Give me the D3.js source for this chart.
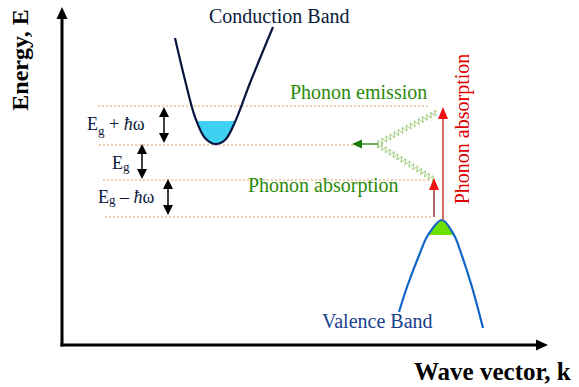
<!DOCTYPE html>
<html><head><meta charset="utf-8">
<script src="https://cdn.jsdelivr.net/npm/d3@7"></script>
<style>
html,body{margin:0;padding:0;background:#fff;}
svg{display:block;font-family:"Liberation Serif","Times New Roman",serif;}
</style></head>
<body>
<script>
// ---- data (units: k along wave-vector axis, E along energy axis) ----
const axisK = [0, 486];
const axisE = [0, 340];
// energy levels of dotted guide lines [E, kStart, kEnd]
const levels = [[239, 36, 368], [200, 37, 293], [165, 41, 368], [128, 43, 371]];
// conduction band sampled points [k, E]
const conductionBand = [[113,307],[123,265],[133,228],[143,207],[153,201],[163,205],[173,223],[188,262],[211,318]];
const conductionFillTop = 224;
// valence band sampled points [k, E]
const valenceBand = [[337,33],[345,58],[358,92],[366,110],[380,125],[392,110],[399,92],[410,58],[421,17]];
const valenceFillBottom = 110;
// double-headed gap arrows [k, Etop, Ebottom]
const gapArrows = [[102, 238, 202], [80, 201, 166], [106, 166, 130]];
// transitions (red arrows) [k, Estart, Eend, lineColor]
const transitions = [[381, 125, 238, "#d86a6a"], [372, 128, 167, "#b06a6a"]];
// phonon wiggles [[k0,E0],[k1,E1]]
const phonons = [[[375, 233], [315, 201]], [[316, 200], [373, 165]]];
const emittedArrow = [[316, 201], [290, 201]];
// labels
const labels = [
  {t: "Conduction Band", k: 147, E: 322, c: "#0b1a3c", s: 20},
  {t: "Phonon emission", k: 228, E: 246, c: "#2b8a0a", s: 20},
  {t: "Phonon absorption", k: 186, E: 153, c: "#2b8a0a", s: 20},
  {t: "Valence Band", k: 260, E: 17, c: "#17408e", s: 20}
];

// ---- scales ----
const W = 579, H = 387;
const x = d3.scaleLinear().domain(axisK).range([62, 548]);
const y = d3.scaleLinear().domain(axisE).range([345, 5]);

const svg = d3.select("body").append("svg").attr("width", W).attr("height", H);
const defs = svg.append("defs");

function tri(g, tipX, tipY, dir, w, h, color) {
  let pts;
  if (dir === "up") pts = [[tipX, tipY], [tipX - w/2, tipY + h], [tipX + w/2, tipY + h]];
  if (dir === "down") pts = [[tipX, tipY], [tipX - w/2, tipY - h], [tipX + w/2, tipY - h]];
  if (dir === "left") pts = [[tipX, tipY], [tipX + h, tipY - w/2], [tipX + h, tipY + w/2]];
  if (dir === "right") pts = [[tipX, tipY], [tipX - h, tipY - w/2], [tipX - h, tipY + w/2]];
  g.append("path").attr("d", "M" + pts.map(p => p.join(",")).join("L") + "Z").attr("fill", color);
}

// ---- axes ----
const ax = svg.append("g");
ax.append("line").attr("x1", x(0)).attr("y1", y(0) + 1.5).attr("x2", x(0)).attr("y2", y(axisE[1]) + 12)
  .attr("stroke", "#000").attr("stroke-width", 3);
tri(ax, x(0), y(axisE[1]) + 2, "up", 11, 12, "#000");
ax.append("line").attr("x1", x(0) - 1.5).attr("y1", y(0)).attr("x2", x(axisK[1]) - 10).attr("y2", y(0))
  .attr("stroke", "#000").attr("stroke-width", 3);
tri(ax, x(axisK[1]), y(0), "right", 11, 12, "#000");

svg.append("text").attr("transform", `translate(28,${y(285)}) rotate(-90)`)
  .attr("text-anchor", "middle").attr("font-weight", "bold").attr("font-size", 24).text("Energy, E");
svg.append("text").attr("x", 414).attr("y", 380).attr("font-weight", "bold").attr("font-size", 25).text("Wave vector, k");

// ---- dotted level lines ----
svg.append("g").selectAll("line").data(levels).join("line")
  .attr("x1", d => x(d[1])).attr("x2", d => x(d[2])).attr("y1", d => y(d[0])).attr("y2", d => y(d[0]))
  .attr("stroke", "#e2a060").attr("stroke-width", 1).attr("stroke-dasharray", "2,2");

// ---- bands ----
const line = d3.line().x(d => x(d[0])).y(d => y(d[1])).curve(d3.curveCatmullRom.alpha(0.5));
defs.append("clipPath").attr("id", "cbclip").append("rect")
  .attr("x", 0).attr("y", y(conductionFillTop)).attr("width", W).attr("height", H);
defs.append("clipPath").attr("id", "vbclip").append("rect")
  .attr("x", 0).attr("y", 0).attr("width", W).attr("height", y(valenceFillBottom));
svg.append("path").attr("d", line(conductionBand) + "Z").attr("fill", "#3fd0f2").attr("clip-path", "url(#cbclip)");
svg.append("path").attr("d", line(valenceBand) + "Z").attr("fill", "#6ee000").attr("clip-path", "url(#vbclip)");
svg.append("path").attr("d", line(conductionBand)).attr("fill", "none").attr("stroke", "#07163f").attr("stroke-width", 2.2);
svg.append("path").attr("d", line(valenceBand)).attr("fill", "none").attr("stroke", "#1065c8").attr("stroke-width", 2.2);

// ---- gap arrows ----
const ga = svg.append("g");
gapArrows.forEach(d => {
  ga.append("line").attr("x1", x(d[0])).attr("x2", x(d[0])).attr("y1", y(d[1]) + 6).attr("y2", y(d[2]) - 6)
    .attr("stroke", "#000").attr("stroke-width", 1.5);
  tri(ga, x(d[0]), y(d[1]), "up", 10, 10, "#000");
  tri(ga, x(d[0]), y(d[2]), "down", 10, 10, "#000");
});

// ---- phonon wiggles ----
function wave(p0, p1, lambda, amp) {
  const X0 = x(p0[0]), Y0 = y(p0[1]), X1 = x(p1[0]), Y1 = y(p1[1]);
  const L = Math.hypot(X1 - X0, Y1 - Y0), ux = (X1 - X0) / L, uy = (Y1 - Y0) / L;
  const nx = -uy, ny = ux, n = Math.round(L * 4);
  const pts = d3.range(n + 1).map(i => {
    const s = i / n * L, o = amp * Math.sin(2 * Math.PI * s / lambda);
    return [X0 + ux * s + nx * o, Y0 + uy * s + ny * o];
  });
  return d3.line()(pts);
}
phonons.forEach(p => svg.append("path").attr("d", wave(p[0], p[1], 4.6, 2.6))
  .attr("fill", "none").attr("stroke", "#86c05a").attr("stroke-width", 1));
svg.append("line").attr("x1", x(emittedArrow[0][0])).attr("y1", y(emittedArrow[0][1]))
  .attr("x2", x(emittedArrow[1][0]) + 8).attr("y2", y(emittedArrow[1][1]))
  .attr("stroke", "#1c7a0a").attr("stroke-width", 1.3);
tri(svg, x(emittedArrow[1][0]), y(emittedArrow[1][1]), "left", 9, 10, "#1c7a0a");

// ---- transitions ----
transitions.forEach(d => {
  svg.append("line").attr("x1", x(d[0])).attr("x2", x(d[0])).attr("y1", y(d[1])).attr("y2", y(d[2]) + 10)
    .attr("stroke", d[3]).attr("stroke-width", 2);
  tri(svg, x(d[0]), y(d[2]), "up", 10, 12, "#f01010");
});
svg.append("text").attr("transform", `translate(469,${y(216)}) rotate(-90)`)
  .attr("text-anchor", "middle").attr("font-size", 20).attr("fill", "#dd0000").text("Phonon absorption");

// ---- labels ----
svg.append("g").selectAll("text").data(labels).join("text")
  .attr("x", d => x(d.k)).attr("y", d => y(d.E)).attr("fill", d => d.c).attr("font-size", d => d.s).text(d => d.t);

// gap labels
const gl = svg.append("g").attr("fill", "#0b1a3c").attr("font-size", 18);
function gapLabel(px, py, op, subShift) {
  const t = gl.append("text").attr("x", px).attr("y", py);
  t.append("tspan").text("E");
  t.append("tspan").attr("font-size", 13).attr("dy", subShift).text("g");
  if (op) {
    t.append("tspan").attr("dy", -subShift).text(op === "+" ? " + " : " \u2013 ");
    t.append("tspan").attr("font-style", "italic").text("\u0127");
    t.append("tspan").text("\u03c9");
  }
}
gapLabel(87, 130, "+", 5);
gapLabel(112, 169, null, 2);
gapLabel(98, 203, "-", 1);
</script>
</body></html>
